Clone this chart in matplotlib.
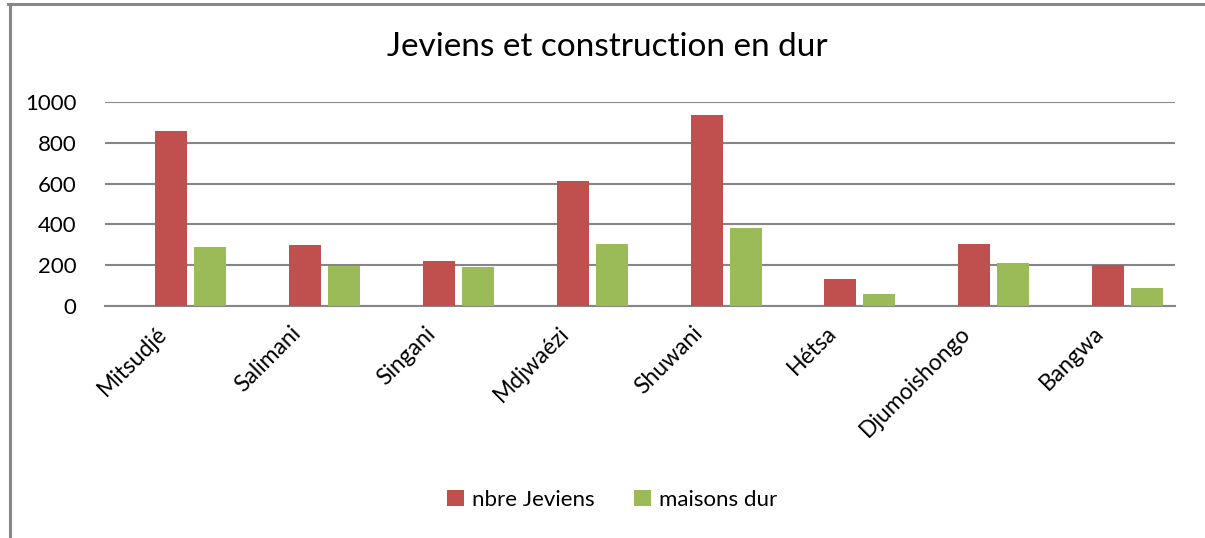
import matplotlib
matplotlib.use("Agg")
import matplotlib.pyplot as plt
from matplotlib.lines import Line2D
import numpy as np

categories = ["Mitsudjé", "Salimani", "Singani", "Mdjwaézi", "Shuwani", "Hétsa", "Djumoishongo", "Bangwa"]
nbre_jeviens = [860, 300, 222, 614, 938, 132, 304, 201]
maisons_dur = [291, 197, 192, 304, 383, 59, 211, 88]
yticks = [0, 200, 400, 600, 800, 1000]

plt.rcParams['font.family'] = ['Lato', 'DejaVu Sans']

W, H = 1205, 538
fig = plt.figure(figsize=(W / 100, H / 100), dpi=100)
ax = fig.add_axes([104.5 / W, (H - 306) / H, (1175 - 104.5) / W, (306 - 102) / H])

x = np.arange(len(categories))
bw = 0.239
step = 0.2915
red = "#C0504D"
green = "#9BBB59"
ax.bar(x, nbre_jeviens, width=bw, color=red, label="nbre Jeviens", zorder=3)
ax.bar(x + step, maisons_dur, width=bw, color=green, label="maisons dur", zorder=3)

ax.set_xlim(-0.5, len(categories) - 0.5)
ax.set_ylim(0, 1000)
ax.set_yticks(yticks)
ax.set_yticklabels([str(v) for v in yticks], fontsize=16)
ax.yaxis.grid(True, color="#868686", linewidth=1.5, zorder=0)
ax.set_axisbelow(True)
for s in ["top", "right", "left"]:
    ax.spines[s].set_visible(False)
ax.spines["bottom"].set_color("#868686")
ax.spines["bottom"].set_linewidth(1.5)
ax.tick_params(axis="y", length=0, pad=20)
ax.tick_params(axis="x", length=0, pad=12)
ax.set_xticks(x)
ax.set_xticklabels(categories, rotation=45, ha="right", fontsize=16.5)

fig.text(607 / W, 1 - 47 / H, "Jeviens et construction en dur", ha="center", va="center", fontsize=24)

leg = fig.legend(loc="center", bbox_to_anchor=(612 / W, 1 - 500 / H), ncol=2, frameon=False,
                 fontsize=16, handlelength=0.75, handleheight=0.75, handletextpad=0.35,
                 columnspacing=1.8)

# outer chart border (left and top)
fig.add_artist(Line2D([9.5 / W, 9.5 / W], [0, 1 - 3.5 / H], transform=fig.transFigure,
                      color="#888888", linewidth=2.2))
fig.add_artist(Line2D([8 / W, 1], [1 - 3.5 / H, 1 - 3.5 / H], transform=fig.transFigure,
                      color="#888888", linewidth=2.2))

fig.savefig("out.png", dpi=100, facecolor="white")
